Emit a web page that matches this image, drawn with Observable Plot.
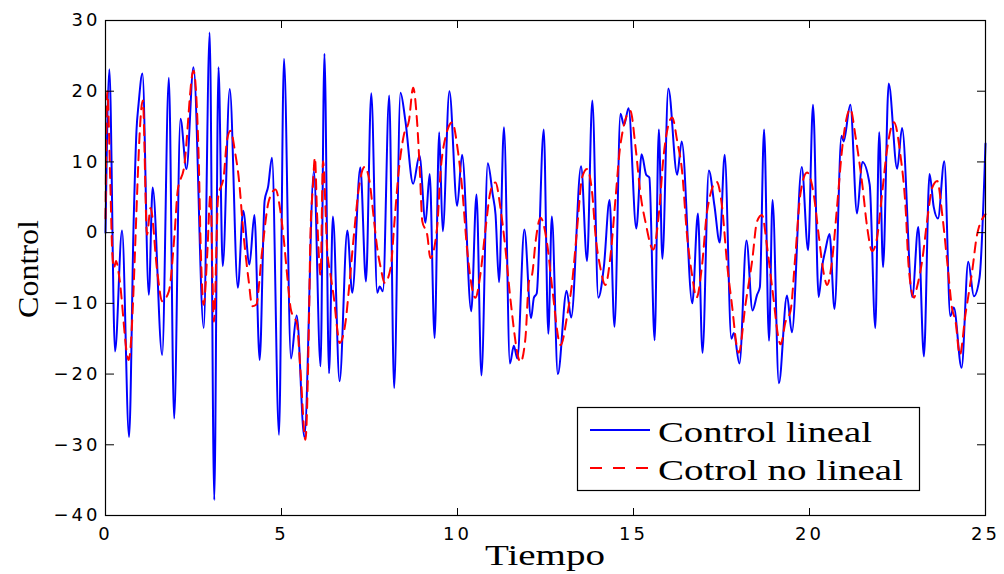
<!DOCTYPE html>
<html>
<head>
<meta charset="utf-8">
<script src="https://cdn.jsdelivr.net/npm/d3@7"></script>
<script src="https://cdn.jsdelivr.net/npm/@observablehq/plot@0.6"></script>
<style>
  html, body { margin: 0; padding: 0; background: #fff; }
  #wrap { position: relative; width: 1004px; height: 574px; overflow: hidden; }
  #wrap svg.plotsvg text { letter-spacing: 3px; }
  #overlay { position: absolute; left: 0; top: 0; pointer-events: none; }
</style>
</head>
<body>
<div id="wrap"></div>
<script>
// ---- data ----
const linealTime = [0, 0.11, 0.27, 0.47, 0.67, 0.80, 0.88, 0.94, 1.05, 1.23,
  1.34, 1.61, 1.80, 1.95, 2.13, 2.30, 2.50, 2.79, 2.96, 3.09,
  3.21, 3.33, 3.53, 3.76, 3.91, 4.09, 4.23, 4.38, 4.52, 4.62,
  4.73, 4.93, 5.07, 5.27, 5.43, 5.65, 5.92, 6.11, 6.22, 6.35,
  6.46, 6.65, 6.87, 7.01, 7.24, 7.40, 7.55, 7.72, 7.79, 7.88,
  8.06, 8.20, 8.38, 8.52, 8.74, 8.92, 9.09, 9.21, 9.35, 9.48,
  9.58, 9.77, 9.99, 10.13, 10.39, 10.54, 10.68, 10.86, 11.00, 11.08,
  11.18, 11.32, 11.49, 11.60, 11.70, 11.90, 12.09, 12.17, 12.25, 12.45,
  12.58, 12.68, 12.85, 13.10, 13.23, 13.51, 13.68, 13.83, 14.00, 14.16,
  14.32, 14.46, 14.63, 14.73, 14.86, 15.08, 15.23, 15.36, 15.45, 15.60,
  15.72, 15.82, 15.99, 16.24, 16.37, 16.67, 16.83, 16.96, 17.14, 17.30,
  17.45, 17.59, 17.78, 17.85, 18.01, 18.21, 18.38, 18.51, 18.59, 18.71,
  18.85, 18.95, 19.13, 19.36, 19.50, 19.78, 19.96, 20.10, 20.26, 20.36,
  20.45, 20.57, 20.71, 20.91, 20.97, 21.16, 21.35, 21.50, 21.71, 21.87,
  21.98, 22.09, 22.25, 22.49, 22.63, 22.92, 23.09, 23.25, 23.41, 23.53,
  23.65, 23.83, 24.00, 24.10, 24.32, 24.51, 24.67, 24.83, 25.00];
const linealValue = [0, 23.1, -16.8, 0.3, -28.9, 1.6, 14.4, 18.2, 22.5, -8.8,
  6.4, -17.3, 21.9, -26.3, 16.1, 9.0, 23.4, -13.5, 28.3, -37.8,
  23.4, -4.75, 20.3, -7.8, 3.1, -4.5, 2.5, -18.0, 4.5, 6.5,
  10.6, -28.6, 24.6, -17.8, -11.7, -28.9, 8.7, -18.9, 25.3, -19.9,
  2.3, -21.0, 0.3, -8.5, 9.2, -6.9, 19.7, -8.5, -7.6, -8.3,
  19.4, -22.0, 19.8, 15.8, 6.9, 10.9, 1.4, 8.3, -14.9, 14.2,
  0.2, 20.0, 3.8, 11.0, -11.1, 5.4, -20.2, 9.8, 5.4, 2.6,
  -7.0, 14.9, -18.5, -16.0, -17.8, 0.45, -12.1, -9.2, -8.6, 14.6,
  -14.3, 2.3, -20.0, -8.2, -12.0, 9.4, -4.0, 18.7, -9.2, -4.75,
  4.6, -13.3, 16.8, 15.2, 17.6, 0.6, 11.1, 8.2, 7.8, -15.2,
  14.6, -3.7, 20.4, 8.2, 12.9, -10.0, 2.7, -17.0, 8.8, 3.8,
  -1.4, 11.0, -15.0, -14.2, -18.5, -1.1, -11.0, -8.8, -7.7, 14.6,
  -15.3, 4.6, -21.3, -8.9, -14.1, 9.3, -2.5, 18.1, -9.1, -4.75,
  -2.5, -0.2, -10.8, 13.7, 12.9, 18.1, 2.7, 10.0, 6.8, -13.5,
  14.2, -4.9, 21.1, 9.05, 14.8, -9.1, 0.8, -17.5, 8.3, 3.6,
  2.0, 10.1, -11.8, -10.6, -19.1, -4.1, -9.0, -6.4, 12.6];

const noLinealTime = [0.00, 0.05, 0.14, 0.19, 0.24, 0.30, 0.38, 0.66, 1.06, 1.18,
  1.28, 1.47, 1.61, 1.80, 1.96, 2.05, 2.23, 2.50, 2.65, 2.70,
  2.79, 2.89, 2.98, 3.08, 3.20, 3.36, 3.45, 3.55, 3.69, 3.78,
  3.93, 4.07, 4.17, 4.28, 4.45, 4.64, 4.83, 4.97, 5.07, 5.16,
  5.26, 5.35, 5.43, 5.54, 5.68, 5.78, 5.82, 5.89, 5.95, 6.01,
  6.11, 6.18, 6.30, 6.39, 6.50, 6.58, 6.65, 6.82, 6.91, 7.05,
  7.20, 7.36, 7.50, 7.62, 7.72, 7.82, 7.93, 8.10, 8.21, 8.33,
  8.48, 8.62, 8.74, 8.85, 8.93, 9.00, 9.14, 9.23, 9.42, 9.52,
  9.66, 9.85, 10.01, 10.13, 10.27, 10.51, 10.65, 10.80, 10.94, 11.08,
  11.22, 11.36, 11.51, 11.79, 11.93, 12.03, 12.12, 12.22, 12.36, 12.55,
  12.69, 12.93, 13.12, 13.26, 13.40, 13.54, 13.68, 13.83, 13.92, 14.06,
  14.20, 14.35, 14.49, 14.63, 14.91, 15.06, 15.20, 15.34, 15.56, 15.72,
  15.86, 16.10, 16.24, 16.38, 16.52, 16.67, 16.79, 16.95, 17.09, 17.36,
  17.52, 17.66, 17.78, 17.99, 18.18, 18.37, 18.51, 18.65, 18.80, 18.94,
  19.18, 19.32, 19.46, 19.60, 19.74, 19.93, 20.12, 20.26, 20.41, 20.50,
  20.64, 20.78, 20.93, 21.16, 21.31, 21.50, 21.64, 21.78, 21.92, 22.06,
  22.21, 22.40, 22.58, 22.73, 22.82, 22.97, 23.05, 23.20, 23.34, 23.49,
  23.63, 23.77, 23.91, 24.05, 24.15, 24.27, 24.43, 24.62, 24.76, 25.00];
const noLinealValue = [2.0, 20.0, 6.4, -2.6, -5.0, -4.0, -5.9, -18.0, 18.7, -0.3,
  3.5, -5.5, -9.7, -8.3, -0.3, 5.9, 9.2, 22.9, 10.1, -1.2,
  -10.2, -3.1, 5.4, -12.6, 5.0, 8.0, 13.0, 14.4, 11.1, 8.0,
  -0.7, -6.9, -10.4, -10.2, -2.6, 4.5, 6.1, 3.0, -1.2, -6.0,
  -10.7, -12.0, -12.6, -19.6, -29.3, -12.6, -0.7, 6.4, 10.6, 2.6,
  -6.0, 10.1, -2.6, -5.9, -9.7, -13.5, -15.6, -12.6, -8.3, -0.7,
  6.4, 9.3, 7.3, 2.1, -2.2, -5.0, -7.1, -5.0, 1.6, 8.7,
  13.9, 15.8, 20.5, 15.8, 8.7, 1.6, -0.3, -3.6, 0.7, 8.7,
  13.5, 15.6, 11.6, 6.4, -2.2, -9.2, -5.9, 0.7, 5.9, 7.1,
  3.5, -2.2, -9.7, -18.3, -14.9, -6.9, -5.9, -1.2, 2.1, -1.7,
  -7.8, -15.9, -11.6, -6.9, 0.7, 7.8, 9.0, 5.4, -0.3, -5.0,
  -7.4, -3.1, 4.9, 12.5, 17.2, 12.0, 5.4, 1.5, -2.4, 2.6,
  11.1, 16.3, 13.0, 8.7, -0.3, -6.2, -9.2, -4.5, 3.0, 7.2,
  3.5, -4.5, -9.5, -17.0, -10.2, -4.0, 1.6, 2.5, -2.2, -7.8,
  -15.8, -12.6, -11.1, -3.1, 5.4, 8.5, 5.4, -0.3, -5.9, -7.4,
  -4.0, 3.5, 12.0, 17.5, 13.5, 6.8, 0.7, -2.6, -0.7, 5.4,
  12.0, 15.6, 11.1, 3.5, -5.0, -9.2, -7.8, -4.0, 1.6, 6.4,
  7.3, 2.6, -4.0, -10.7, -12.6, -17.3, -11.6, -5.5, -0.3, 2.6];

const seriesNames = ["Control lineal", "Cotrol no lineal"];
const xTicks = [0, 5, 10, 15, 20, 25];
const yTicks = [-40, -30, -20, -10, 0, 10, 20, 30];
const xLabel = "Tiempo";
const yLabel = "Control";

// ---- build tables ----
const lineal = linealTime.map((t, i) => ({t, v: linealValue[i]}));
const noLineal = noLinealTime.map((t, i) => ({t, v: noLinealValue[i]}));

const W = 1004, H = 574;
const mL = 105, mR = 19, mT = 20, mB = 59;
const innerW = W - mL - mR, innerH = H - mT - mB;
const fmt = d => (d < 0 ? "\u2212" + Math.abs(d) : String(d));
const blank = () => "";

const chart = Plot.plot({
  width: W, height: H,
  marginLeft: mL, marginRight: mR, marginTop: mT, marginBottom: mB,
  x: {domain: [0, 25]},
  y: {domain: [-40, 30]},
  style: {fontFamily: "DejaVu Sans, sans-serif", fontSize: "18px", color: "#000", background: "#fff"},
  marks: [
    Plot.line(lineal, {x: "t", y: "v", stroke: "#0000ff", strokeWidth: 2, curve: "monotone-x"}),
    Plot.line(noLineal, {x: "t", y: "v", stroke: "#ff0000", strokeWidth: 2, strokeDasharray: "10,7", curve: "monotone-x"}),
    Plot.frame({stroke: "#000", strokeWidth: 1.2}),
    // tick labels
    Plot.axisX({ticks: xTicks, tickSize: 0, tickPadding: 12, tickFormat: fmt, label: null}),
    Plot.axisY({ticks: yTicks, tickSize: 0, tickPadding: 5, tickFormat: fmt, label: null}),
    // inward tick marks on all four sides
    Plot.axisX({anchor: "top", ticks: xTicks, tickSize: 8, dy: innerH, tickFormat: blank, label: null}),
    Plot.axisX({anchor: "bottom", ticks: xTicks, tickSize: 8, dy: -innerH, tickFormat: blank, label: null}),
    Plot.axisY({anchor: "right", ticks: yTicks, tickSize: 8, dx: -innerW, tickFormat: blank, label: null}),
    Plot.axisY({anchor: "left", ticks: yTicks, tickSize: 8, dx: innerW, tickFormat: blank, label: null})
  ]
});
chart.classList.add("plotsvg");
const wrap = document.getElementById("wrap");
wrap.appendChild(chart);

// ---- overlay: axis titles and legend ----
const ns = "http://www.w3.org/2000/svg";
const ov = document.createElementNS(ns, "svg");
ov.setAttribute("id", "overlay");
ov.setAttribute("width", W);
ov.setAttribute("height", H);
wrap.appendChild(ov);
function el(name, attrs, text) {
  const e = document.createElementNS(ns, name);
  for (const k in attrs) e.setAttribute(k, attrs[k]);
  if (text != null) e.textContent = text;
  ov.appendChild(e);
  return e;
}
const serif = "Liberation Serif, DejaVu Serif, serif";
el("text", {x: 545, y: 565, "text-anchor": "middle", "font-family": serif, "font-size": 30,
  textLength: 120, lengthAdjust: "spacingAndGlyphs"}, xLabel);
el("text", {transform: "translate(38,269) rotate(-90)", "text-anchor": "middle", "font-family": serif, "font-size": 30,
  textLength: 98, lengthAdjust: "spacingAndGlyphs"}, yLabel);

// legend
el("rect", {x: 577.5, y: 407.5, width: 342, height: 83, fill: "#fff", stroke: "#000", "stroke-width": 1.2});
el("line", {x1: 590, x2: 650, y1: 430, y2: 430, stroke: "#0000ff", "stroke-width": 2});
el("line", {x1: 590, x2: 650, y1: 468, y2: 468, stroke: "#ff0000", "stroke-width": 2, "stroke-dasharray": "12,11"});
el("text", {x: 658, y: 442, "font-family": serif, "font-size": 30, textLength: 214, lengthAdjust: "spacingAndGlyphs"}, seriesNames[0]);
el("text", {x: 658, y: 480, "font-family": serif, "font-size": 30, textLength: 245, lengthAdjust: "spacingAndGlyphs"}, seriesNames[1]);
</script>
</body>
</html>
